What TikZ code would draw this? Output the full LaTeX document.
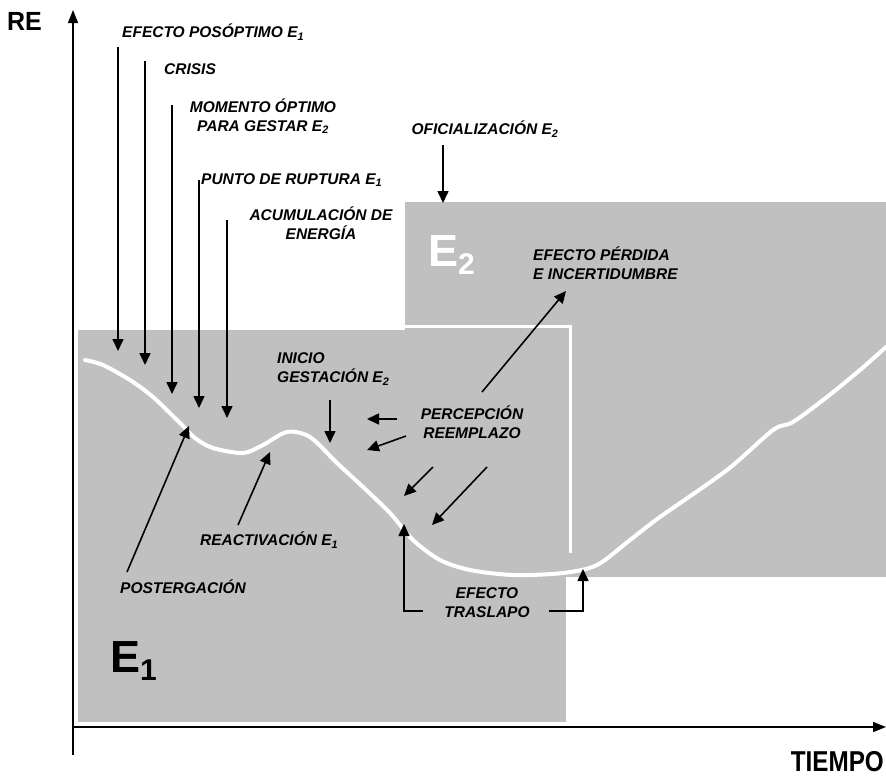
\documentclass[tikz,border=0pt]{standalone}
\usepackage{fontspec}
\setmainfont{Liberation Sans}
\usetikzlibrary{arrows.meta}
\definecolor{panel}{HTML}{C0C0C0}
\begin{document}
\begin{tikzpicture}[x=1pt,y=-1pt,
  lbl/.style={font=\bfseries\itshape\fontsize{15.5}{19}\selectfont, inner sep=0pt, align=center},
  arr/.style={line width=1.6pt, -{Triangle[length=12pt,width=11pt]}},
  axisline/.style={line width=1.4pt, -{Triangle[length=13pt,width=10pt]}},
  bigE/.style={anchor=base west, inner sep=0pt, font=\bfseries\fontsize{45}{45}\selectfont},
  trend/.style={white, line width=4pt, line join=round, line cap=round}
]
\useasboundingbox (0,0) rectangle (886,780);

% stage panels
\fill[panel] (78,330) rectangle (566,722);
\fill[panel] (405,202) rectangle (886,577);
\draw[white, line width=3pt] (405,326) -- (570,326) -- (570,553);

% trend curve
\draw[trend] plot[smooth, tension=0.5] coordinates {
  (85,360) (103,365) (130,380) (153,397) (180,423) (195,438) (213,448)
  (243,453) (263,445) (287,432) (310,437) (337,463) (363,487) (390,513)
  (413,540) (440,560) (470,570) (513,575) (563,573) (597,565) (630,540)
  (660,517) (727,470) (773,430) (793,422) (827,397) (860,370) (886,347)};

% axes
\coordinate (ybot) at (73,755);
\coordinate (ytop) at (73,10);
\coordinate (xleft) at (73,727);
\coordinate (xright) at (886,727);
\draw[axisline] (ybot) -- (ytop);
\draw[axisline] (xleft) -- (xright);
\node[anchor=west, inner sep=0pt, font=\bfseries\fontsize{25}{25}\selectfont] (re) at (7,21) {\scalebox{1}[1.05]{RE}};
\node[anchor=east, inner sep=0pt, font=\bfseries\fontsize{25}{25}\selectfont] (tiempo) at (884,762) {\scalebox{0.97}[1.15]{TIEMPO}};

% stage names
\node[bigE, text=white] (etwo) at (428,266) {E\raisebox{-8pt}{\fontsize{30}{30}\selectfont 2}};
\node[bigE, text=black] (eone) at (110,672) {E\raisebox{-8pt}{\fontsize{30}{30}\selectfont 1}};

% labels
\node[lbl, anchor=west] (posopt) at (122,32) {EFECTO POSÓPTIMO E\textsubscript{1}};
\node[lbl, anchor=west] (crisis) at (164,69) {CRISIS};
\node[lbl] (momento) at (263,116) {MOMENTO ÓPTIMO\\PARA GESTAR E\textsubscript{2}};
\node[lbl, anchor=west] (ruptura) at (201,180) {PUNTO DE RUPTURA E\textsubscript{1}};
\node[lbl] (acum) at (321,223) {ACUMULACIÓN DE\\ENERGÍA};
\node[lbl] (ofic) at (485,129) {OFICIALIZACIÓN E\textsubscript{2}};
\node[lbl, align=left, anchor=west] (perdida) at (533,263) {EFECTO PÉRDIDA\\E INCERTIDUMBRE};
\node[lbl, align=left, anchor=west] (inicio) at (277,369) {INICIO\\GESTACIÓN E\textsubscript{2}};
\node[lbl] (percep) at (472,422) {PERCEPCIÓN\\REEMPLAZO};
\node[lbl, anchor=west] (react) at (200,540) {REACTIVACIÓN E\textsubscript{1}};
\node[lbl, anchor=west] (poster) at (120,587) {POSTERGACIÓN};
\node[lbl] (trasl) at (487,603) {EFECTO\\TRASLAPO};

% arrow end points
\coordinate (p1a) at (118,47);  \coordinate (p1b) at (118,351);
\coordinate (p2a) at (145,61);  \coordinate (p2b) at (145,365);
\coordinate (p3a) at (172,105); \coordinate (p3b) at (172,394);
\coordinate (p4a) at (199,180); \coordinate (p4b) at (199,408);
\coordinate (p5a) at (227,220); \coordinate (p5b) at (227,418);
\coordinate (p6a) at (443,145); \coordinate (p6b) at (443,203);
\coordinate (p7a) at (330,400); \coordinate (p7b) at (330,443);
\coordinate (q1a) at (397,419); \coordinate (q1b) at (367,419);
\coordinate (q2a) at (406,436); \coordinate (q2b) at (367,450);
\coordinate (q3a) at (433,467); \coordinate (q3b) at (404,496);
\coordinate (q4a) at (487,467); \coordinate (q4b) at (432,525);
\coordinate (q5a) at (482,392); \coordinate (q5b) at (566,291);
\coordinate (r1a) at (238,525); \coordinate (r1b) at (270,452);
\coordinate (s1a) at (127,572); \coordinate (s1b) at (189,426);
\coordinate (t1a) at (423,611); \coordinate (t1b) at (404,524);
\coordinate (t2a) at (549,611); \coordinate (t2b) at (583,569);

\foreach \i in {p1,p2,p3,p4,p5,p6,p7,q1,q2,q3,q4,q5,r1,s1}
  \draw[arr] (\i a) -- (\i b);
\draw[arr] (t1a) -| (t1b);
\draw[arr] (t2a) -| (t2b);
\end{tikzpicture}
\end{document}
